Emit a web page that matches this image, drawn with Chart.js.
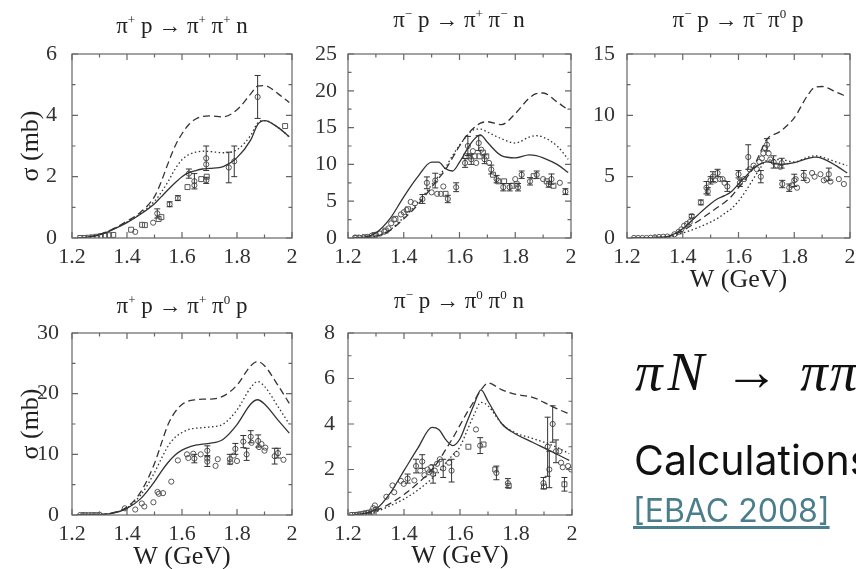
<!DOCTYPE html>
<html>
<head>
<meta charset="utf-8">
<script src="https://cdn.jsdelivr.net/npm/chart.js@4.4.0/dist/chart.umd.min.js"></script>
<style>
html, body { margin: 0; padding: 0; background: #fff; overflow: hidden; }
#page { position: relative; width: 856px; height: 569px; overflow: hidden; background: #fff; }
canvas { position: absolute; left: 0; top: 0; }
.ttl { position: absolute; width: 240px; text-align: center; font: 23px 'Liberation Serif', serif;
       line-height: 23px; color: #222; white-space: nowrap; }
.ttl sup { font-size: 13px; position: relative; top: -9px; vertical-align: baseline; line-height: 0; }
#eq { position: absolute; left: 635px; top: 344px; font: 55px 'Liberation Serif', serif; line-height: 55px;
      color: #111; white-space: nowrap; }
#calc { position: absolute; left: 634px; top: 440px; font: 41px Inter, 'Open Sans', sans-serif; line-height: 41px;
        color: #111; white-space: nowrap; }
#ref { position: absolute; left: 633px; top: 495px; font: 32px Inter, 'Open Sans', sans-serif; line-height: 32px;
       color: #4b7e8c; text-decoration: underline; text-underline-offset: 4px; white-space: nowrap; }
</style>
</head>
<body>
<div id="page">
  <canvas id="c1" width="856" height="600"></canvas>
  <canvas id="c2" width="856" height="600"></canvas>
  <canvas id="c3" width="856" height="600"></canvas>
  <canvas id="c4" width="856" height="600"></canvas>
  <canvas id="c5" width="856" height="600"></canvas>

  <div class="ttl" style="left:62px; top:14px">π<sup>+</sup> p → π<sup>+</sup> π<sup>+</sup> n</div>
  <div class="ttl" style="left:339px; top:8px">π<sup>−</sup> p → π<sup>+</sup> π<sup>−</sup> n</div>
  <div class="ttl" style="left:618px; top:8px">π<sup>−</sup> p → π<sup>−</sup> π<sup>0</sup> p</div>
  <div class="ttl" style="left:62px; top:294px">π<sup>+</sup> p → π<sup>+</sup> π<sup>0</sup> p</div>
  <div class="ttl" style="left:339px; top:289px">π<sup>−</sup> p → π<sup>0</sup> π<sup>0</sup> n</div>

  <div id="eq"><i>π</i><i style="margin-left:5px">N</i><span style="margin:0 21px 0 20px">→</span><i>π</i><i style="margin-left:2px">π</i><i>N</i></div>
  <div id="calc">Calculations</div>
  <div id="ref">[EBAC 2008]</div>
</div>

<script>
// W grid (GeV) for the model curves
const W = [1.22, 1.25, 1.3, 1.35, 1.4, 1.45, 1.5, 1.525, 1.55, 1.575, 1.6, 1.625, 1.65, 1.675, 1.7, 1.75, 1.8, 1.85, 1.875, 1.9, 1.95, 1.99];
const xTicks = [1.2, 1.4, 1.6, 1.8, 2];
const xMinor = [1.3, 1.5, 1.7, 1.9];

// pi+ p -> pi+ pi+ n
const p1Solid  = [0, 0.02, 0.1, 0.28, 0.5, 0.78, 1.12, 1.35, 1.58, 1.8, 2.0, 2.13, 2.2, 2.25, 2.27, 2.33, 2.62, 3.2, 3.7, 3.83, 3.6, 3.3];
const p1Dashed = [0, 0.02, 0.12, 0.3, 0.55, 0.85, 1.35, 1.85, 2.45, 3.0, 3.4, 3.7, 3.88, 3.96, 3.98, 3.95, 4.18, 4.7, 4.95, 4.97, 4.7, 4.42];
const p1Dotted = [0, 0.02, 0.11, 0.29, 0.52, 0.8, 1.2, 1.5, 1.85, 2.25, 2.55, 2.72, 2.8, 2.83, 2.82, 2.78, 2.88, 3.35, 3.75, 3.83, 3.6, 3.3];
const p1Circles = [[1.43, 0.2], [1.495, 0.5], [1.51, 0.8, 0.15], [1.555, 1.1, 0.08], [1.585, 1.3, 0.08], [1.625, 2.1, 0.15],
  [1.645, 1.85, 0.25], [1.645, 1.72], [1.688, 2.6, 0.4], [1.688, 2.4], [1.688, 1.88, 0.1], [1.77, 2.3, 0.5], [1.79, 2.5, 0.5], [1.875, 4.6, 0.7]];
const p1Squares = [[1.23, 0], [1.245, 0], [1.26, 0.01], [1.275, 0.02], [1.29, 0.04], [1.305, 0.06], [1.32, 0.08], [1.335, 0.09],
  [1.35, 0.1], [1.415, 0.27], [1.455, 0.43], [1.465, 0.42], [1.515, 0.62], [1.525, 0.68], [1.62, 1.66], [1.67, 1.92], [1.69, 2.0], [1.975, 3.65]];

// pi- p -> pi+ pi- n
const p2Solid  = [0, 0.05, 0.7, 2.6, 5.6, 8.3, 10.3, 10.3, 9.4, 9.1, 10.3, 11.9, 13.3, 14.0, 13.0, 11.2, 10.9, 11.3, 11.2, 10.9, 10.0, 8.9];
const p2Dashed = [0, 0.03, 0.25, 1.0, 2.6, 4.5, 6.9, 8.1, 9.3, 10.9, 12.5, 13.9, 14.9, 15.6, 15.8, 15.4, 16.9, 19.0, 19.6, 19.7, 18.5, 17.4];
const p2Dotted = [0, 0.03, 0.25, 1.1, 2.8, 4.8, 7.2, 8.4, 9.6, 11.2, 12.6, 13.8, 14.7, 14.8, 14.4, 13.5, 12.9, 13.7, 13.9, 13.7, 12.5, 10.7];
const p2Circles = [[1.225, 0.05], [1.24, 0.05], [1.255, 0.08], [1.27, 0.15], [1.285, 0.3], [1.3, 0.45], [1.315, 0.6], [1.33, 0.85],
  [1.345, 1.3], [1.355, 2.0], [1.365, 2.5], [1.39, 3.2], [1.4, 3.5], [1.41, 3.8], [1.425, 4.9], [1.44, 4.7], [1.467, 5.3, 0.6],
  [1.483, 7.5, 0.8], [1.5, 6.2], [1.513, 7.8, 1.0], [1.52, 6.0], [1.533, 6.0], [1.542, 7.0], [1.558, 5.3, 0.5], [1.588, 6.9, 0.6],
  [1.62, 10.2, 0.6], [1.63, 12.5, 1.3], [1.642, 10.7, 0.7], [1.648, 11.8], [1.66, 10.2], [1.669, 12.9, 1.0], [1.678, 12.0],
  [1.69, 10.7, 0.6], [1.706, 10.2], [1.714, 9.3, 0.6], [1.733, 8.0, 0.5], [1.757, 6.9, 0.5], [1.78, 6.9, 0.5], [1.8, 8.0],
  [1.81, 6.9, 0.5], [1.823, 8.6, 0.5], [1.853, 7.7, 0.5], [1.877, 8.6, 0.5], [1.9, 8.0], [1.92, 7.3, 0.4], [1.93, 8.0, 0.7],
  [1.96, 7.5], [1.98, 6.3, 0.4]];
const p2Squares = [[1.23, 0.03], [1.26, 0.1], [1.295, 0.4], [1.335, 1.0], [1.37, 2.6], [1.415, 3.9], [1.55, 6.0], [1.624, 11.1],
  [1.636, 11.1], [1.654, 11.1], [1.672, 11.1], [1.684, 11.6], [1.696, 11.1], [1.72, 8.6], [1.739, 7.7], [1.76, 7.7], [1.79, 7.1],
  [1.805, 7.3], [1.866, 8.4], [1.913, 7.7], [1.937, 7.1]];

// pi- p -> pi- pi0 p
const p3Solid  = [0, 0, 0.03, 0.15, 0.75, 1.8, 2.8, 3.2, 3.45, 3.8, 4.4, 5.0, 5.6, 6.0, 6.2, 6.0, 6.15, 6.5, 6.6, 6.5, 5.9, 5.3];
const p3Dashed = [0, 0, 0.03, 0.12, 0.6, 1.3, 2.1, 2.5, 2.9, 3.4, 4.1, 4.8, 5.6, 6.8, 8.0, 8.7, 9.8, 11.7, 12.3, 12.35, 11.9, 11.5];
const p3Dotted = [0, 0, 0.02, 0.1, 0.4, 0.8, 1.3, 1.6, 2.0, 2.4, 3.0, 3.8, 4.7, 5.6, 6.3, 6.4, 6.2, 6.6, 6.7, 6.6, 6.2, 5.9];
const p3Circles = [[1.225, 0], [1.24, 0], [1.255, 0], [1.27, 0], [1.285, 0.02], [1.3, 0.05], [1.315, 0.08], [1.33, 0.1],
  [1.345, 0.12], [1.37, 0.3], [1.385, 0.5], [1.395, 0.7], [1.405, 1.0], [1.415, 1.15], [1.425, 1.3], [1.432, 1.78, 0.15],
  [1.465, 2.9, 0.2], [1.485, 4.1, 0.5], [1.49, 3.8, 0.3], [1.5, 4.7, 0.3], [1.508, 5.0, 0.4], [1.516, 4.7], [1.525, 5.3, 0.3],
  [1.534, 4.8], [1.543, 4.8], [1.55, 4.5], [1.56, 4.2, 0.4], [1.6, 5.2, 0.3], [1.605, 4.5, 0.3], [1.62, 4.8], [1.635, 6.6, 1.0],
  [1.64, 5.6], [1.654, 5.9], [1.666, 5.6], [1.675, 6.2], [1.68, 5.0, 0.5], [1.684, 6.5], [1.689, 6.9], [1.695, 7.35],
  [1.702, 7.6, 0.5], [1.708, 6.9], [1.714, 6.4], [1.726, 6.2, 0.5], [1.738, 5.9], [1.75, 5.8], [1.755, 6.1, 0.4],
  [1.757, 4.4, 0.3], [1.782, 4.1, 0.3], [1.792, 4.3], [1.8, 4.7, 0.5], [1.805, 4.8], [1.81, 4.1], [1.834, 5.1, 0.4],
  [1.846, 4.7], [1.864, 5.3], [1.873, 5.0], [1.894, 5.2], [1.906, 4.7], [1.916, 4.8], [1.924, 5.2, 0.5], [1.93, 4.6],
  [1.96, 4.8], [1.978, 4.4]];
const p3Squares = [];

// pi+ p -> pi+ pi0 p
const p4Solid  = [0, 0, 0.05, 0.3, 1.1, 2.7, 5.5, 7.2, 8.7, 9.9, 10.7, 11.2, 11.5, 11.7, 11.8, 12.5, 14.9, 18.3, 19.0, 18.3, 15.6, 13.5];
const p4Dashed = [0, 0, 0.08, 0.4, 1.3, 3.8, 8.5, 11.8, 15.0, 17.0, 18.2, 18.8, 19.0, 19.1, 19.1, 19.6, 21.4, 24.6, 25.3, 24.6, 21.3, 18.4];
const p4Dotted = [0, 0, 0.06, 0.35, 1.2, 3.3, 7.0, 9.3, 11.4, 12.8, 13.6, 14.1, 14.3, 14.4, 14.5, 15.0, 17.3, 21.0, 22.0, 21.2, 17.8, 15.0];
const p4Circles = [[1.23, 0], [1.24, 0], [1.25, 0], [1.26, 0], [1.27, 0], [1.28, 0], [1.29, 0], [1.3, 0.05],
  [1.392, 1.1], [1.43, 0.9], [1.454, 1.9], [1.463, 1.4], [1.496, 2.1], [1.511, 3.8], [1.516, 3.5], [1.531, 3.6], [1.561, 5.5],
  [1.585, 9.0], [1.618, 10.0], [1.623, 9.4], [1.641, 10.1], [1.645, 9.3, 0.7], [1.668, 10.0], [1.692, 10.6, 0.8], [1.692, 9.3],
  [1.692, 8.8, 0.8], [1.722, 8.1], [1.73, 9.2], [1.774, 9.2, 0.8], [1.776, 8.7], [1.788, 9.8], [1.794, 10.9, 0.9], [1.8, 8.9],
  [1.823, 12.1, 1.0], [1.835, 10.0, 1.0], [1.85, 12.9, 1.0], [1.853, 11.9], [1.877, 12.2, 1.0], [1.88, 11.2], [1.889, 11.7],
  [1.9, 10.6], [1.903, 11.1], [1.937, 9.7, 1.3], [1.949, 10.2, 0.8], [1.969, 9.1]];
const p4Squares = [];

// pi- p -> pi0 pi0 n
const p5Solid  = [0.02, 0.05, 0.25, 0.95, 1.95, 2.95, 3.85, 3.75, 3.3, 3.05, 3.35, 4.1, 4.85, 5.5, 5.0, 4.0, 3.55, 3.25, 3.1, 2.95, 2.65, 2.4];
const p5Dashed = [0.01, 0.04, 0.2, 0.5, 0.9, 1.4, 2.0, 2.4, 2.9, 3.4, 3.95, 4.5, 5.0, 5.5, 5.8, 5.5, 5.3, 5.2, 5.1, 4.95, 4.65, 4.45];
const p5Dotted = [0.01, 0.03, 0.15, 0.4, 0.7, 1.1, 1.6, 1.9, 2.3, 2.65, 3.0, 3.7, 4.4, 4.95, 4.8, 4.0, 3.6, 3.4, 3.3, 3.2, 2.95, 2.7];
const p5Circles = [[1.29, 0.3], [1.296, 0.42], [1.3, 0.25], [1.337, 0.8], [1.359, 1.3], [1.365, 1.0], [1.389, 1.5],
  [1.399, 1.37], [1.413, 1.6, 0.2], [1.437, 1.52], [1.443, 2.15, 0.3], [1.458, 1.95], [1.465, 2.35, 0.3], [1.473, 1.75],
  [1.484, 2.0], [1.49, 1.88], [1.497, 2.1], [1.504, 1.8, 0.4], [1.51, 1.95], [1.518, 2.25], [1.528, 2.45], [1.54, 2.05, 0.4],
  [1.561, 2.3], [1.57, 1.95, 0.5], [1.588, 2.68], [1.657, 3.76], [1.672, 3.05, 0.35], [1.73, 1.85, 0.3], [1.771, 1.4, 0.2],
  [1.898, 1.4, 0.25], [1.913, 3.0, 1.3], [1.919, 2.0, 0.8], [1.931, 4.0, 0.8], [1.943, 2.8, 0.5], [1.955, 2.8], [1.961, 2.3],
  [1.967, 2.1], [1.986, 2.15], [1.997, 2.0]];
const p5Squares = [[1.215, 0], [1.225, 0], [1.235, 0.01], [1.245, 0.03], [1.255, 0.05], [1.265, 0.08], [1.275, 0.1],
  [1.285, 0.15], [1.63, 3.0], [1.684, 3.1], [1.726, 2.0], [1.774, 1.28], [1.9, 1.25], [1.973, 1.35, 0.3]];

const serif = 'Liberation Serif';

// draws the vertical error bars of datasets that carry an errs list
const errorBars = {
  id: 'errorBars',
  afterDatasetsDraw(chart) {
    const {ctx, scales: {x, y}} = chart;
    ctx.save();
    ctx.strokeStyle = '#333';
    ctx.lineWidth = 1;
    chart.data.datasets.forEach(ds => {
      if (!ds.errs) return;
      ds.data.forEach((p, i) => {
        const e = ds.errs[i];
        if (!e) return;
        const px = x.getPixelForValue(p.x);
        const hi = y.getPixelForValue(p.y + e), lo = y.getPixelForValue(p.y - e);
        ctx.beginPath();
        ctx.moveTo(px, hi); ctx.lineTo(px, lo);
        ctx.moveTo(px - 3, hi); ctx.lineTo(px + 3, hi);
        ctx.moveTo(px - 3, lo); ctx.lineTo(px + 3, lo);
        ctx.stroke();
      });
    });
    ctx.restore();
  }
};

// box round the plot with inward ticks on all four sides
const frame = {
  id: 'frame',
  afterDraw(chart) {
    const {ctx, chartArea: a, scales: {x, y}} = chart;
    const yt = chart.options.scales.y.tickValues;
    const yMinor = yt.slice(1).map((v, i) => (v + yt[i]) / 2);
    ctx.save();
    ctx.strokeStyle = '#666';
    ctx.lineWidth = 1.2;
    ctx.strokeRect(a.left, a.top, a.right - a.left, a.bottom - a.top);
    ctx.beginPath();
    const xt = (v, len) => {
      const px = x.getPixelForValue(v);
      ctx.moveTo(px, a.bottom); ctx.lineTo(px, a.bottom - len);
      ctx.moveTo(px, a.top); ctx.lineTo(px, a.top + len);
    };
    const ytk = (v, len) => {
      const py = y.getPixelForValue(v);
      ctx.moveTo(a.left, py); ctx.lineTo(a.left + len, py);
      ctx.moveTo(a.right, py); ctx.lineTo(a.right - len, py);
    };
    xTicks.forEach(v => xt(v, 6));
    xMinor.forEach(v => xt(v, 3.5));
    yt.forEach(v => ytk(v, 6));
    yMinor.forEach(v => ytk(v, 3.5));
    ctx.stroke();
    ctx.restore();
  }
};

function curve(vals, dash) {
  return {
    data: W.map((w, i) => ({x: w, y: vals[i]})),
    showLine: true, borderColor: '#333', borderWidth: 1.3, borderDash: dash,
    pointRadius: 0, cubicInterpolationMode: 'monotone', fill: false
  };
}

function marks(pts, style, r) {
  return {
    data: pts.map(p => ({x: p[0], y: p[1]})),
    errs: pts.map(p => p[2] || 0),
    showLine: false, pointStyle: style, pointRadius: r,
    pointBorderWidth: 1, pointBorderColor: '#555', pointBackgroundColor: 'rgba(255,255,255,0)'
  };
}

const panels = [
  {id: 'c1', left: 72, right: 292, top: 54, bottom: 238, yMax: 6, yTicks: [0, 2, 4, 6], yPad: 7, yTitle: true, xTitle: false, xH: 40,
   lines: [p1Solid, p1Dashed, p1Dotted], circles: p1Circles, squares: p1Squares},
  {id: 'c2', left: 348, right: 571, top: 54, bottom: 238, yMax: 25, yTicks: [0, 5, 10, 15, 20, 25], yPad: 3, yTitle: false, xTitle: false, xH: 40,
   lines: [p2Solid, p2Dashed, p2Dotted], circles: p2Circles, squares: p2Squares},
  {id: 'c3', left: 627, right: 850, top: 54, bottom: 238, yMax: 15, yTicks: [0, 5, 10, 15], yPad: 4, yTitle: false, xTitle: true, xH: 58,
   lines: [p3Solid, p3Dashed, p3Dotted], circles: p3Circles, squares: p3Squares},
  {id: 'c4', left: 72, right: 292, top: 333, bottom: 515, yMax: 30, yTicks: [0, 10, 20, 30], yPad: 5, yTitle: true, xTitle: true, xH: 58,
   lines: [p4Solid, p4Dashed, p4Dotted], circles: p4Circles, squares: p4Squares},
  {id: 'c5', left: 348, right: 572, top: 333, bottom: 515, yMax: 8, yTicks: [0, 2, 4, 6, 8], yPad: 5, yTitle: false, xTitle: true, xH: 57,
   lines: [p5Solid, p5Dashed, p5Dotted], circles: p5Circles, squares: p5Squares}
];

panels.forEach(P => {
  const yW = P.yTitle ? P.left - 16 : 40;
  new Chart(document.getElementById(P.id), {
    type: 'scatter',
    data: {
      datasets: [
        curve(P.lines[0], []),
        curve(P.lines[1], [7, 4]),
        curve(P.lines[2], [1.5, 2.5]),
        marks(P.circles, 'circle', 2.6),
        marks(P.squares, 'rect', 3.5)
      ]
    },
    options: {
      responsive: false,
      animation: false,
      events: [],
      layout: {padding: {left: P.left - yW, top: P.top, right: 856 - P.right, bottom: 600 - P.bottom - P.xH}},
      plugins: {legend: {display: false}, tooltip: {enabled: false}},
      scales: {
        x: {
          type: 'linear', min: 1.2, max: 2,
          afterBuildTicks: s => { s.ticks = xTicks.map(v => ({value: v})); },
          afterFit: s => { s.height = P.xH; s.paddingLeft = 0; s.paddingRight = 0; },
          grid: {display: false},
          border: {display: false},
          ticks: {padding: -2, maxRotation: 0, autoSkip: false, color: '#333', font: {family: serif, size: 22},
                  callback: v => String(v)},
          title: {display: P.xTitle, text: 'W (GeV)', color: '#222', padding: 0, font: {family: serif, size: 26}}
        },
        y: {
          type: 'linear', min: 0, max: P.yMax,
          tickValues: P.yTicks,
          afterBuildTicks: s => { s.ticks = P.yTicks.map(v => ({value: v})); },
          afterFit: s => { s.width = yW; s.paddingTop = 0; s.paddingBottom = 0; },
          grid: {display: false},
          border: {display: false},
          ticks: {padding: P.yPad, autoSkip: false, color: '#333', font: {family: serif, size: 22},
                  callback: v => String(v)},
          title: {display: P.yTitle, text: 'σ (mb)', color: '#222', padding: 0, font: {family: serif, size: 26}}
        }
      }
    },
    plugins: [errorBars, frame]
  });
});
</script>
</body>
</html>
